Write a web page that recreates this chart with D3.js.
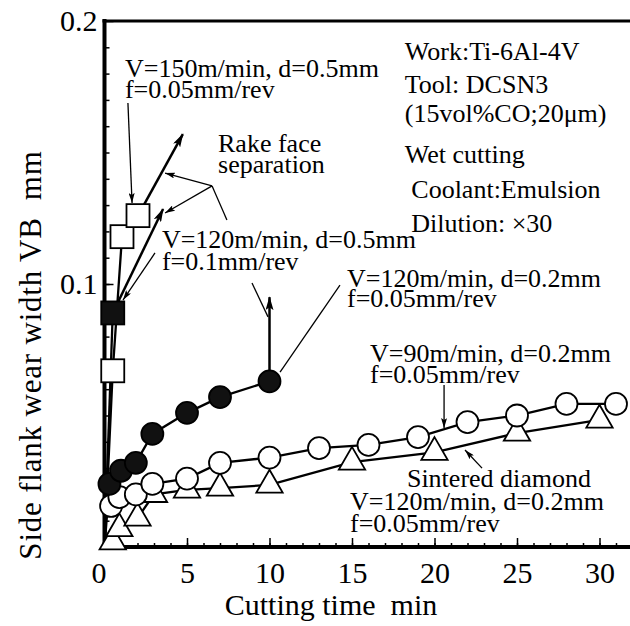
<!DOCTYPE html>
<html>
<head>
<meta charset="utf-8">
<script src="https://cdn.jsdelivr.net/npm/d3@7"></script>
<style>
  body { margin: 0; background: #fff; }
  svg text { font-family: "Liberation Serif", "Times New Roman", serif; fill: #000; white-space: pre; }
</style>
</head>
<body>
<svg id="chart" width="630" height="626"></svg>
<script>
// cutting time (min) / side flank wear VB (mm)
const sq150T = [0, 0.5, 1.06, 2.03];
const sq150VB = [0, 0.067, 0.118, 0.126];
const sq120T = [0, 0.5];
const sq120VB = [0, 0.089];
const dot120T = [0, 0.3, 1.0, 1.9, 2.9, 5, 7, 10];
const dot120VB = [0, 0.024, 0.029, 0.032, 0.043, 0.051, 0.057, 0.063];
const dot90T = [0.4, 0.9, 1.9, 2.9, 5, 7, 10, 13, 16, 19, 22, 25, 28, 31];
const dot90VB = [0.0156, 0.019, 0.020, 0.024, 0.026, 0.032, 0.034, 0.0376, 0.0388, 0.0418, 0.0475, 0.050, 0.0544, 0.0544];
const sdT = [0.5, 0.9, 2, 3, 5, 7, 10, 15, 20, 25, 30];
const sdVB = [0.002, 0.007, 0.011, 0.020, 0.0217, 0.0224, 0.0236, 0.0323, 0.036, 0.0433, 0.0483];

// where the "still growing" arrows end
const sq150End = [4.75, 0.157];
const sq120End = [3.55, 0.1285];
const dot120End = [10, 0.095];

const xMajor = [0, 5, 10, 15, 20, 25, 30];
const yMajor = [0.1, 0.2];

const boxLines = ["Work:Ti-6Al-4V", "Tool: DCSN3", "(15vol%CO;20\u03bcm)", "Wet cutting", " Coolant:Emulsion", " Dilution: \u00d730"];
const boxAt = [[18.2, 0.1852], [18.2, 0.1726], [18.2, 0.1616], [18.2, 0.146], [18.2, 0.1327], [18.2, 0.1198]];

const notes = [
  ["V=150m/min, d=0.5mm", 1.24, 0.1787],
  ["f=0.05mm/rev", 1.24, 0.1707],
  ["Rake face", 6.88, 0.1502],
  ["separation", 6.88, 0.1422],
  ["V=120m/min, d=0.5mm", 3.48, 0.1137],
  ["f=0.1mm/rev", 3.48, 0.1053],
  ["V=120m/min, d=0.2mm", 14.7, 0.0989],
  ["f=0.05mm/rev", 14.7, 0.0913],
  ["V=90m/min, d=0.2mm", 16.09, 0.0703],
  ["f=0.05mm/rev", 16.09, 0.0624],
  ["Sintered diamond", 18.33, 0.0228],
  ["V=120m/min, d=0.2mm", 14.88, 0.0141],
  ["f=0.05mm/rev", 14.88, 0.0057]
];

// thin leader lines: points, arrow at end or not
const leaders = [
  [[[1.42, 0.1688], [1.67, 0.1308]], true],
  [[[3.06, 0.1118], [1.12, 0.0939]], true],
  [[[8.94, 0.1004], [9.91, 0.0875]], false],
  [[[14.27, 0.0996], [10.64, 0.0665]], false],
  [[[7.42, 0.1243], [6.52, 0.1373]], false],
  [[[6.52, 0.1373], [3.67, 0.1422]], true],
  [[[6.52, 0.1373], [3.67, 0.127]], true],
  [[[20.58, 0.0616], [20.58, 0.0452]], true],
  [[[22.88, 0.030], [21.85, 0.0369]], true]
];

const svg = d3.select("#chart");

const x = d3.scaleLinear().domain([0, 32]).range([104.5, 632.5]);
const y = d3.scaleLinear().domain([0, 0.2]).range([547, 21]);

const defs = svg.append("defs");
defs.append("marker")
  .attr("id", "bigHead")
  .attr("viewBox", "0 -4 14 8")
  .attr("refX", 13).attr("refY", 0)
  .attr("markerUnits", "userSpaceOnUse")
  .attr("markerWidth", 14).attr("markerHeight", 8)
  .attr("orient", "auto")
  .append("path").attr("d", "M0,-4L14,0L0,4L3,0Z").attr("fill", "#000");
defs.append("marker")
  .attr("id", "smallHead")
  .attr("viewBox", "0 -3 10 6")
  .attr("refX", 10).attr("refY", 0)
  .attr("markerUnits", "userSpaceOnUse")
  .attr("markerWidth", 10).attr("markerHeight", 6)
  .attr("orient", "auto")
  .append("path").attr("d", "M0,-3L10,0L0,3L2,0Z").attr("fill", "#000");

// axes
svg.append("g")
  .attr("transform", "translate(0," + y(0) + ")")
  .call(d3.axisBottom(x).tickValues(d3.range(0, 32)).tickSize(-4).tickFormat(""))
  .call(g => g.select(".domain").remove());
svg.append("g")
  .attr("class", "x-axis")
  .attr("transform", "translate(0," + y(0) + ")")
  .call(d3.axisBottom(x).tickValues(xMajor).tickSize(-9).tickPadding(15).tickFormat(d3.format("d")))
  .call(g => g.select(".domain").remove())
  .call(g => g.selectAll("text").attr("font-size", 30).attr("font-family", null)
    .attr("dx", d => d === 0 ? -6 : 0));
svg.append("g")
  .attr("transform", "translate(" + x(0) + ",0)")
  .call(d3.axisLeft(y).tickValues(d3.range(1, 20).map(d => d / 100)).tickSize(-5).tickFormat(""))
  .call(g => g.select(".domain").remove());
svg.append("g")
  .attr("class", "y-axis")
  .attr("transform", "translate(" + x(0) + ",0)")
  .call(d3.axisLeft(y).tickValues(yMajor).tickSize(-9).tickPadding(7).tickFormat(d3.format(".1f")))
  .call(g => g.select(".domain").remove())
  .call(g => g.selectAll("text").attr("font-size", 30).attr("font-family", null));
svg.selectAll(".tick line").attr("stroke", "#000").attr("stroke-width", 1.5);

// frame
svg.append("line").attr("x1", x(0)).attr("x2", x(0)).attr("y1", y(0.2) - 2).attr("y2", y(0) + 2)
  .attr("stroke", "#000").attr("stroke-width", 4);
svg.append("line").attr("x1", x(0) - 2).attr("x2", 630).attr("y1", y(0)).attr("y2", y(0))
  .attr("stroke", "#000").attr("stroke-width", 4);
svg.append("line").attr("x1", x(0) - 2).attr("x2", 630).attr("y1", y(0.2)).attr("y2", y(0.2))
  .attr("stroke", "#000").attr("stroke-width", 3);

// axis titles
svg.append("text")
  .attr("x", 331).attr("y", 615)
  .attr("text-anchor", "middle").attr("font-size", 30)
  .text("Cutting time  min");
svg.append("text")
  .attr("transform", "translate(41,355) rotate(-90)")
  .attr("text-anchor", "middle").attr("font-size", 31).attr("letter-spacing", 0.8)
  .text("Side flank wear width VB  mm");

// series
const zip = (ts, vs) => ts.map((t, i) => [t, vs[i]]);
const line = d3.line().x(d => x(d[0])).y(d => y(d[1]));
const series = [
  { pts: zip(sdT, sdVB), kind: "tri" },
  { pts: zip(dot90T, dot90VB), kind: "openDot" },
  { pts: zip(dot120T, dot120VB), kind: "fillDot", end: dot120End, skipFirst: true },
  { pts: zip(sq150T, sq150VB), kind: "openSq", end: sq150End, skipFirst: true },
  { pts: zip(sq120T, sq120VB), kind: "fillSq", end: sq120End, skipFirst: true }
];

const plot = svg.append("g");
series.forEach(s => {
  plot.append("path").datum(s.pts).attr("d", line)
    .attr("fill", "none").attr("stroke", "#000").attr("stroke-width", 2.3);
  if (s.end) {
    const last = s.pts[s.pts.length - 1];
    plot.append("path").datum([last, s.end]).attr("d", line)
      .attr("fill", "none").attr("stroke", "#000").attr("stroke-width", 2.5)
      .attr("marker-end", "url(#bigHead)");
  }
});

const markers = svg.append("g");
series.forEach(s => {
  const pts = s.skipFirst ? s.pts.slice(1) : s.pts;
  pts.forEach(d => {
    const cx = x(d[0]), cy = y(d[1]);
    if (s.kind === "openDot" || s.kind === "fillDot") {
      markers.append("circle").attr("cx", cx).attr("cy", cy).attr("r", 11)
        .attr("fill", s.kind === "fillDot" ? "#111" : "#fff")
        .attr("stroke", "#000").attr("stroke-width", 1.8);
    } else if (s.kind === "openSq" || s.kind === "fillSq") {
      markers.append("rect").attr("x", cx - 11.5).attr("y", cy - 11.5).attr("width", 23).attr("height", 23)
        .attr("fill", s.kind === "fillSq" ? "#111" : "#fff")
        .attr("stroke", "#000").attr("stroke-width", 1.8);
    } else {
      markers.append("path")
        .attr("d", d3.symbol(d3.symbolTriangle, 300)())
        .attr("transform", "translate(" + cx + "," + cy + ")")
        .attr("fill", "#fff").attr("stroke", "#000").attr("stroke-width", 1.8);
    }
  });
});

// leader lines
leaders.forEach(([pts, arrow]) => {
  const p = svg.append("path").datum(pts).attr("d", line)
    .attr("fill", "none").attr("stroke", "#000").attr("stroke-width", 1.3);
  if (arrow) p.attr("marker-end", "url(#smallHead)");
});

// notes
svg.append("g").selectAll("text").data(notes).join("text")
  .attr("x", d => x(d[1])).attr("y", d => y(d[2]))
  .attr("font-size", 26)
  .text(d => d[0]);

svg.append("g").selectAll("text").data(boxLines).join("text")
  .attr("x", (d, i) => x(boxAt[i][0])).attr("y", (d, i) => y(boxAt[i][1]))
  .attr("font-size", 26)
  .text(d => d);
</script>
</body>
</html>
